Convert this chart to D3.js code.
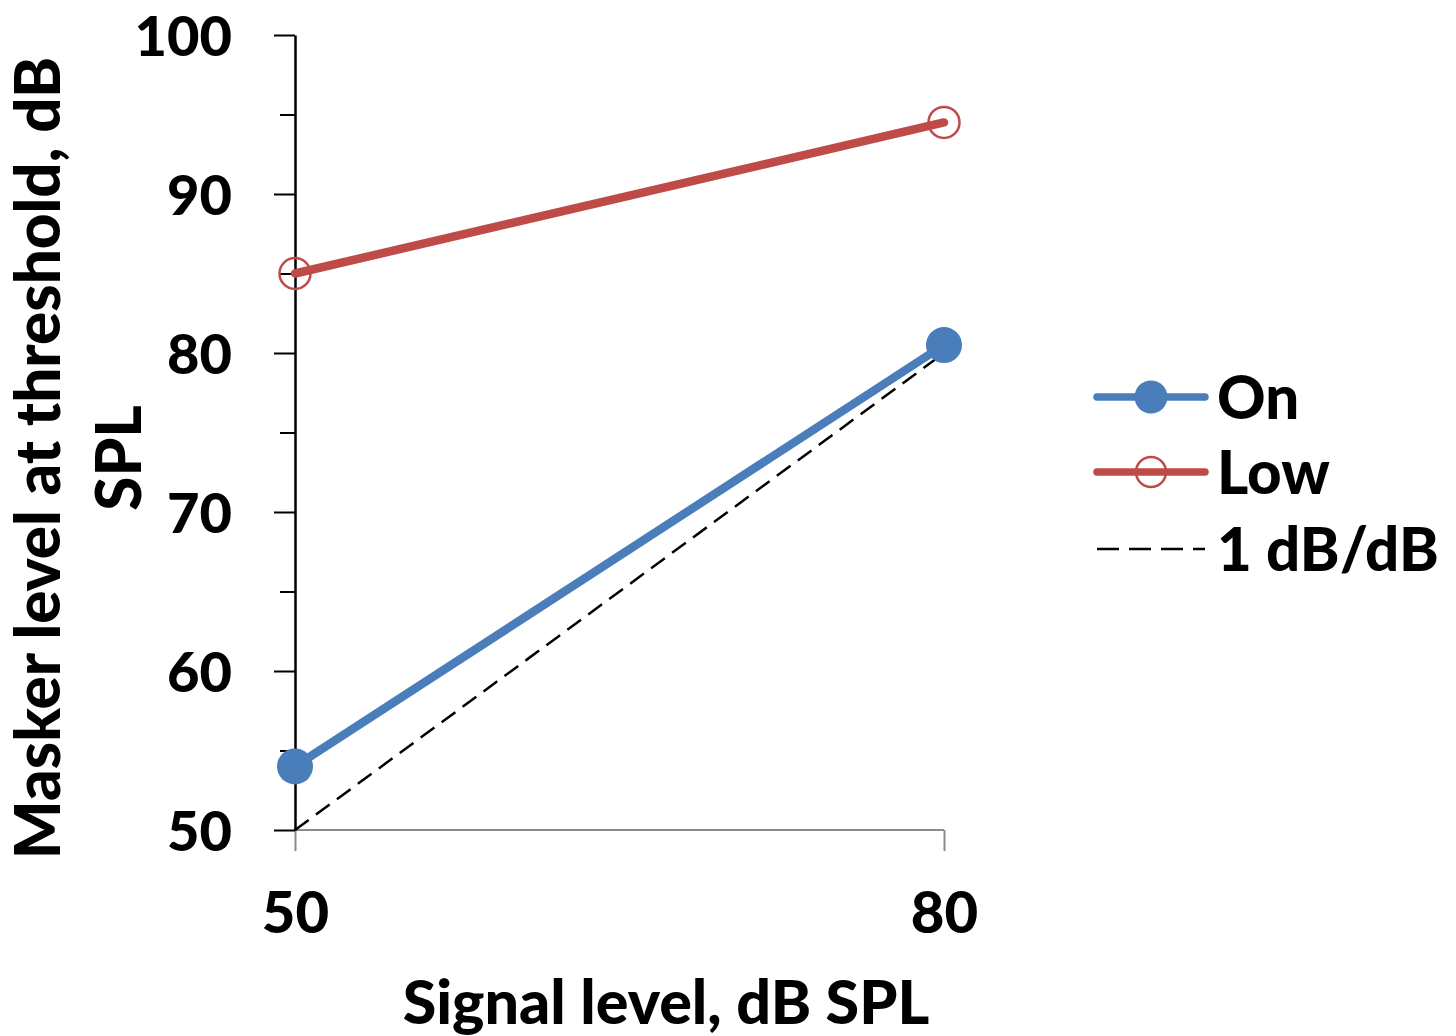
<!DOCTYPE html>
<html>
<head>
<meta charset="utf-8">
<script src="https://cdn.jsdelivr.net/npm/d3@7"></script>
<style>
  html, body { margin: 0; padding: 0; background: #fff; }
  svg { display: block; }
  text { font-family: Lato, "Open Sans", sans-serif; font-weight: 900; fill: #000; }
</style>
</head>
<body>
<svg id="chart" width="1456" height="1036"></svg>
<script>
// Signal levels (dB SPL) on the x axis
const signalLevels = [50, 80];
// Masker level at threshold for each condition
const onValues = [54, 80.5];
const lowValues = [85, 94.5];
// Reference line of unit slope
const unitSlope = [50, 80];

const yMajorTicks = [50, 60, 70, 80, 90, 100];
const yMinorTicks = [55, 65, 75, 85, 95];
const xTicks = [50, 80];

const legendItems = ["On", "Low", "1 dB/dB"];

const svg = d3.select("#chart");

const x = d3.scaleLinear().domain([50, 80]).range([295, 944]);
const y = d3.scaleLinear().domain([50, 100]).range([830, 35]);

const blue = "#4A7EBB";
const red = "#BE4B48";

// x axis: grey baseline with downward ticks
const xAxis = svg.append("g").attr("transform", `translate(0,${y(50)})`)
  .call(d3.axisBottom(x).tickValues(xTicks).tickSize(21).tickFormat(d3.format("d")).tickPadding(40));
xAxis.select(".domain").attr("stroke", "#8c8c8c").attr("stroke-width", 2).attr("d", `M${x(50)},0H${x(80)}`);
xAxis.selectAll(".tick line").attr("stroke", "#8c8c8c").attr("stroke-width", 2);
xAxis.selectAll(".tick text").style("font-size", "58px").attr("dy", "0.72em");

// y axis: minor ticks first, then labelled major ticks
const yMinor = svg.append("g").attr("transform", `translate(${x(50)},0)`)
  .call(d3.axisLeft(y).tickValues(yMinorTicks).tickSize(15).tickFormat(""));
yMinor.select(".domain").remove();
yMinor.selectAll(".tick line").attr("stroke", "#000").attr("stroke-width", 2);

const yAxis = svg.append("g").attr("transform", `translate(${x(50)},0)`)
  .call(d3.axisLeft(y).tickValues(yMajorTicks).tickSize(21).tickSizeOuter(0).tickFormat(d3.format("d")).tickPadding(42));
yAxis.select(".domain").attr("stroke", "#000").attr("stroke-width", 2.5);
yAxis.selectAll(".tick line").attr("stroke", "#000").attr("stroke-width", 2);
yAxis.selectAll(".tick text").style("font-size", "56px").attr("dy", "0.36em");

// Data lines
const line = d3.line().x(d => x(d[0])).y(d => y(d[1]));

svg.append("path")
  .datum(signalLevels.map((s, i) => [s, unitSlope[i]]))
  .attr("d", line).attr("fill", "none").attr("stroke", "#000")
  .attr("stroke-width", 2.5).attr("stroke-dasharray", "17,9");

svg.append("path")
  .datum(signalLevels.map((s, i) => [s, lowValues[i]]))
  .attr("d", line).attr("fill", "none").attr("stroke", red)
  .attr("stroke-width", 8.5).attr("stroke-linecap", "round");

svg.append("path")
  .datum(signalLevels.map((s, i) => [s, onValues[i]]))
  .attr("d", line).attr("fill", "none").attr("stroke", blue)
  .attr("stroke-width", 8.5).attr("stroke-linecap", "round");

svg.selectAll(".low-pt").data(signalLevels.map((s, i) => [s, lowValues[i]]))
  .join("circle").attr("class", "low-pt")
  .attr("cx", d => x(d[0])).attr("cy", d => y(d[1])).attr("r", 15.5)
  .attr("fill", "none").attr("stroke", red).attr("stroke-width", 2.5);

svg.selectAll(".on-pt").data(signalLevels.map((s, i) => [s, onValues[i]]))
  .join("circle").attr("class", "on-pt")
  .attr("cx", d => x(d[0])).attr("cy", d => y(d[1])).attr("r", 18)
  .attr("fill", blue);

// Axis titles
svg.append("text")
  .attr("x", 666).attr("y", 1024).attr("text-anchor", "middle")
  .style("font-size", "61px").text("Signal level, dB SPL");

const yTitle = svg.append("text")
  .attr("transform", "translate(0,458) rotate(-90)")
  .attr("text-anchor", "middle").style("font-size", "62px");
yTitle.append("tspan").attr("x", 0).attr("y", 60).text("Masker level at threshold, dB");
yTitle.append("tspan").attr("x", 0).attr("y", 141).text("SPL");

// Legend
const legend = svg.append("g").attr("transform", "translate(1097,0)");
const rows = [397, 472, 549];
const lg = legend.selectAll("g").data(legendItems).join("g")
  .attr("transform", (d, i) => `translate(0,${rows[i]})`);

lg.filter((d, i) => i === 0).call(g => {
  g.append("line").attr("x1", 0).attr("x2", 108).attr("stroke", blue).attr("stroke-width", 7.5).attr("stroke-linecap", "round");
  g.append("circle").attr("cx", 54).attr("r", 16.5).attr("fill", blue);
});
lg.filter((d, i) => i === 1).call(g => {
  g.append("line").attr("x1", 0).attr("x2", 108).attr("stroke", red).attr("stroke-width", 7.5).attr("stroke-linecap", "round");
  g.append("circle").attr("cx", 54).attr("r", 15).attr("fill", "none").attr("stroke", red).attr("stroke-width", 2.5);
});
lg.filter((d, i) => i === 2).call(g => {
  g.append("line").attr("x1", 0).attr("x2", 108).attr("stroke", "#000").attr("stroke-width", 2.5).attr("stroke-dasharray", "22,10");
});
lg.append("text").attr("x", 120).attr("dy", "0.36em").style("font-size", "60px").text(d => d);
</script>
</body>
</html>
